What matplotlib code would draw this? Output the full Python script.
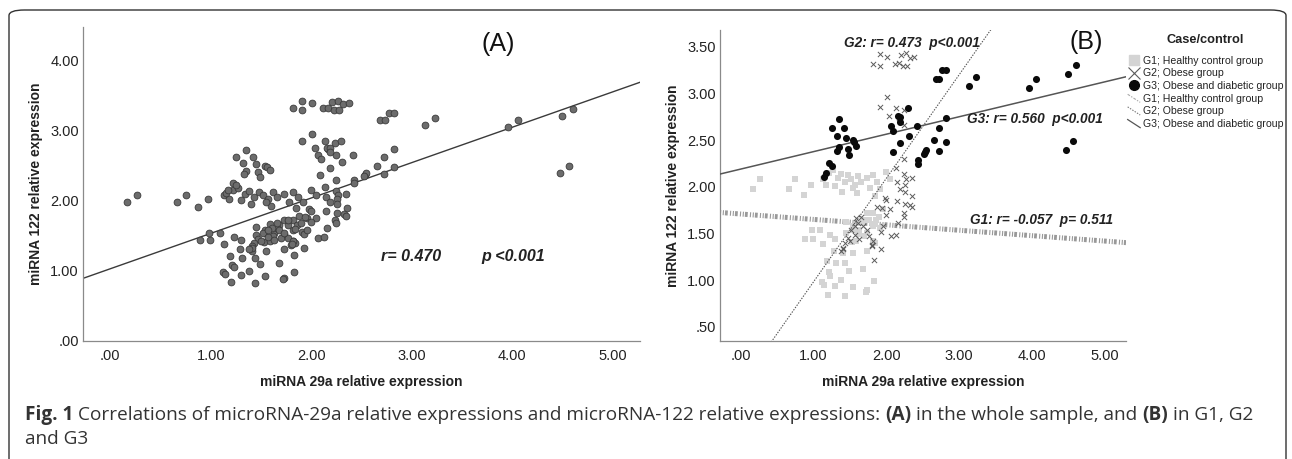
import matplotlib
matplotlib.use("Agg")
import matplotlib.pyplot as plt
import numpy as np
from matplotlib.lines import Line2D
from matplotlib.patches import FancyBboxPatch
from matplotlib.legend_handler import HandlerLine2D

plt.rcParams["font.family"] = ["Liberation Sans", "DejaVu Sans"]
plt.rcParams["lines.scale_dashes"] = False

# G1; healthy controls (light squares)
g1_x = [0.17, 0.27, 0.66, 0.75, 0.87, 0.97,
        1.22, 1.27, 1.34, 1.38, 1.43, 1.48, 1.52, 1.57, 1.62, 1.66, 1.73, 1.78,
        1.82, 1.87, 1.92, 2.00, 2.05, 1.40, 1.60, 1.85, 1.30, 1.55, 1.13, 1.18,
        0.89, 0.99, 0.98, 1.09, 1.13, 1.23, 1.29, 1.19, 1.31, 1.44, 1.55, 1.73,
        1.68, 1.49, 1.21, 1.23, 1.38, 1.12, 1.14, 1.30, 1.54, 1.73, 1.83, 1.20,
        1.44, 1.72, 1.30, 1.45, 1.54, 1.63, 1.73, 1.82, 1.82, 1.86, 1.73, 1.68,
        1.53, 1.82, 1.41, 1.84, 1.66, 1.77, 1.84, 1.91, 1.54, 1.70, 1.59, 1.96,
        1.77, 1.90, 1.62, 1.45]
g1_y = [1.98, 2.08, 1.98, 2.08, 1.91, 2.02,
        2.15, 2.18, 2.10, 2.14, 2.05, 2.13, 2.08, 2.02, 2.12, 2.05, 2.10, 1.99,
        2.13, 2.05, 1.98, 2.16, 2.08, 1.95, 1.93, 1.90, 2.01, 1.99, 2.08, 2.02,
        1.44, 1.44, 1.54, 1.54, 1.39, 1.49, 1.31, 1.21, 1.19, 1.19, 1.29, 1.31,
        1.12, 1.10, 1.09, 1.05, 1.00, 0.98, 0.95, 0.94, 0.93, 0.90, 0.99, 0.84,
        0.83, 0.88, 1.44, 1.51, 1.58, 1.54, 1.51, 1.58, 1.72, 1.65, 1.72, 1.65,
        1.41, 1.42, 1.29, 1.40, 1.61, 1.65, 1.60, 1.56, 1.54, 1.47, 1.42, 1.76,
        1.72, 1.68, 1.50, 1.62]

# G2; obese (crosses)
g2_x = [1.91, 2.01, 1.82, 1.91, 2.21, 2.27, 2.32, 2.38, 2.12, 2.17, 2.23, 2.28,
        2.01, 1.91, 2.14, 2.04, 2.24, 2.17, 2.25,
        2.25, 2.14, 2.25, 2.35, 2.27, 2.15, 2.26, 2.19, 2.26, 2.36, 2.15, 2.26,
        2.33, 2.35, 2.24, 2.25,
        1.98, 2.00, 1.88, 1.94, 2.05, 2.00, 1.66, 1.59, 1.61, 1.52, 1.57, 1.47,
        1.50, 1.43, 1.41, 1.63, 1.77, 1.80, 1.93, 1.82, 1.96, 2.07, 2.13, 2.16,
        1.68, 1.73, 1.57, 1.41, 1.81, 1.93, 1.83, 1.38]
g2_y = [3.42, 3.39, 3.32, 3.29, 3.41, 3.43, 3.38, 3.39, 3.32, 3.33, 3.29, 3.29,
        2.96, 2.86, 2.85, 2.76, 2.82, 2.74, 2.66,
        2.30, 2.20, 2.14, 2.10, 2.08, 2.05, 2.02, 1.98, 1.95, 1.90, 1.85, 1.82,
        1.81, 1.79, 1.72, 1.68,
        1.88, 1.86, 1.79, 1.77, 1.76, 1.70, 1.68, 1.67, 1.61, 1.54, 1.49, 1.45,
        1.42, 1.40, 1.35, 1.44, 1.47, 1.37, 1.52, 1.42, 1.58, 1.47, 1.48, 1.61,
        1.58, 1.54, 1.58, 1.33, 1.38, 1.33, 1.22, 1.31]

# G3; obese and diabetic (black dots)
g3_x = [1.15, 1.17, 1.22, 1.25, 1.25, 1.35, 1.32, 1.42, 1.35, 1.33, 1.45, 1.47,
        1.49, 1.54, 1.56, 1.59, 2.07, 2.10, 2.09, 2.16, 2.19, 2.19, 2.19, 2.30,
        2.31, 2.42, 2.43, 2.43, 2.53, 2.54, 2.52, 2.65, 2.68, 2.73, 2.77, 2.82,
        2.72, 2.72, 2.82, 2.82, 3.13, 3.23, 3.96, 4.06, 4.49, 4.60, 4.47, 4.56]
g3_y = [2.11, 2.15, 2.26, 2.22, 2.63, 2.73, 2.54, 2.63, 2.43, 2.38, 2.52, 2.41,
        2.34, 2.50, 2.48, 2.44, 2.65, 2.60, 2.37, 2.76, 2.75, 2.70, 2.47, 2.85,
        2.55, 2.65, 2.29, 2.25, 2.37, 2.40, 2.35, 2.50, 3.15, 3.15, 3.25, 3.25,
        2.63, 2.38, 2.74, 2.48, 3.08, 3.18, 3.06, 3.16, 3.21, 3.31, 2.39, 2.49]

# fit lines (intercept, slope)
fit_all = (1.03, 0.505)
fit_g1 = (1.71, -0.058)
fit_g2 = (-0.13, 1.11)
fit_g3 = (2.19, 0.187)

x_ticks = [0, 1, 2, 3, 4, 5]
x_labels = [".00", "1.00", "2.00", "3.00", "4.00", "5.00"]
ya_ticks = [0, 1, 2, 3, 4]
ya_labels = [".00", "1.00", "2.00", "3.00", "4.00"]
yb_ticks = [0.5, 1.0, 1.5, 2.0, 2.5, 3.0, 3.5]
yb_labels = [".50", "1.00", "1.50", "2.00", "2.50", "3.00", "3.50"]

group_names = ["G1; Healthy control group", "G2; Obese group",
               "G3; Obese and diabetic group"]

W, H = 1292, 459
INK = "#222222"


class HandlerSlant(HandlerLine2D):
    # SPSS draws the fit-line legend keys as short slanted strokes
    def create_artists(self, legend, orig_handle, xdescent, ydescent,
                       width, height, fontsize, trans):
        x0 = -xdescent + 0.05 * width
        x1 = -xdescent + width
        line = Line2D([x0, x1], [height * 1.0 - ydescent, -ydescent - 0.1 * height])
        self.update_prop(line, orig_handle, legend)
        line.set_transform(trans)
        return [line]


def style_axes(ax, yticks, ylabels):
    for s in ["top", "right"]:
        ax.spines[s].set_visible(False)
    for s in ["left", "bottom"]:
        ax.spines[s].set_color("#8a8a8a")
        ax.spines[s].set_linewidth(0.9)
    ax.set_xticks(x_ticks)
    ax.set_xticklabels(x_labels)
    ax.set_yticks(yticks)
    ax.set_yticklabels(ylabels)
    ax.tick_params(axis="x", length=0, pad=5.5, labelsize=10.5, colors=INK)
    ax.tick_params(axis="y", length=0, pad=3, labelsize=10.5, colors=INK)
    ax.set_xlabel("miRNA 29a relative expression", fontsize=10,
                  fontweight="bold", color=INK)
    ax.set_ylabel("miRNA 122 relative expression", fontsize=10,
                  fontweight="bold", color=INK)
    ax.xaxis.label.set_va("center")
    ax.yaxis.label.set_va("center")


def fit_line(ax, fit, **kw):
    xs = np.array(ax.get_xlim())
    ax.plot(xs, fit[0] + fit[1] * xs, **kw)


def note(ax, x, y, s, size):
    ax.text(x, y, s, transform=ax.transAxes, fontsize=size, fontweight="bold",
            fontstyle="italic", va="center", color=INK)


def caption_line(fig, pieces, x, y, size):
    r = fig.canvas.get_renderer()
    probe = fig.text(0, 0, "a a", fontsize=size, family="Open Sans")
    probe2 = fig.text(0, 0, "aa", fontsize=size, family="Open Sans")
    space = (probe.get_window_extent(r).width - probe2.get_window_extent(r).width)
    probe.remove()
    probe2.remove()
    for s, w in pieces:
        t = fig.text(x, y, s, fontsize=size, fontweight=w, family="Open Sans",
                     color="#333333", va="baseline", ha="left")
        x += (t.get_window_extent(r).width + space) / fig.bbox.width


fig = plt.figure(figsize=(W / 100, H / 100), dpi=100)
ax1 = fig.add_axes([83 / W, 1 - 341 / H, (640 - 83) / W, (341 - 27) / H])
ax2 = fig.add_axes([720 / W, 1 - 341 / H, (1126 - 720) / W, (341 - 30) / H])

# panel A: whole sample
all_x = g1_x + g2_x + g3_x
all_y = g1_y + g2_y + g3_y
ax1.set_xlim(-0.27, 5.27)
ax1.set_ylim(0, 4.48)
ax1.scatter(all_x, all_y, s=24, facecolor="#6c6c6c", edgecolor="#3a3a3a",
            linewidth=0.6, zorder=3)
fit_line(ax1, fit_all, color="#3a3a3a", lw=1.0, zorder=2)
style_axes(ax1, ya_ticks, ya_labels)
ax1.xaxis.set_label_coords(0.5, (341 - 382) / 314)
ax1.yaxis.set_label_coords((36 - 83) / 557, 0.5)
ax1.text(0.745, 0.945, "(A)", transform=ax1.transAxes, fontsize=18,
         ha="center", va="center", color="#111111")
note(ax1, 0.535, 0.27, "r= 0.470", 11.5)
note(ax1, 0.715, 0.27, "p <0.001", 11.5)

# panel B: by group
ax2.set_xlim(-0.28, 5.29)
ax2.set_ylim(0.35, 3.68)
ax2.scatter(g1_x, g1_y, s=20, marker="s", color="#d4d4d4", linewidth=0, zorder=2)
ax2.scatter(g2_x, g2_y, s=14, marker="x", color="#5a5a5a", linewidth=0.7, zorder=3)
ax2.scatter(g3_x, g3_y, s=26, marker="o", color="#0a0a0a", linewidth=0, zorder=4)
fit_line(ax2, fit_g1, color="#999999", lw=3.6,
         dashes=(0.8, 1.2, 0.8, 0.8, 2.0, 1.6), zorder=1)
fit_line(ax2, fit_g2, color="#555555", lw=0.8, dashes=(1.0, 1.0), zorder=3)
fit_line(ax2, fit_g3, color="#555555", lw=1.1, zorder=3)
style_axes(ax2, yb_ticks, yb_labels)
ax2.xaxis.set_label_coords(0.5, (341 - 382) / 311)
ax2.yaxis.set_label_coords((673 - 720) / 406, 0.5)
ax2.text(0.902, 0.962, "(B)", transform=ax2.transAxes, fontsize=18,
         ha="center", va="center", color="#111111")
note(ax2, 0.306, 0.958, "G2: r= 0.473  p<0.001", 9.8)
note(ax2, 0.608, 0.714, "G3: r= 0.560  p<0.001", 9.8)
note(ax2, 0.615, 0.389, "G1: r= -0.057  p= 0.511", 9.8)

handles = [
    Line2D([], [], ls="none", marker="s", ms=6.5, color="#d4d4d4"),
    Line2D([], [], ls="none", marker="x", ms=8, mew=0.8, color="#5a5a5a"),
    Line2D([], [], ls="none", marker="o", ms=7, color="#0a0a0a"),
    Line2D([], [], color="#aaaaaa", lw=0.8, dashes=(2, 1, 1, 1)),
    Line2D([], [], color="#777777", lw=0.8, dashes=(1, 1)),
    Line2D([], [], color="#555555", lw=0.9),
]
slant = HandlerSlant()
leg = ax2.legend(handles, group_names + group_names, loc="upper left",
                 bbox_to_anchor=(1127 / W, 1 - 34 / H),
                 bbox_transform=fig.transFigure, frameon=False,
                 title="Case/control", fontsize=7.6, handlelength=1.25,
                 handletextpad=0.3, labelspacing=0.25, borderpad=0,
                 borderaxespad=0, alignment="center",
                 title_fontproperties={"weight": "bold", "size": 9.2},
                 handler_map={handles[3]: slant, handles[4]: slant,
                              handles[5]: slant})
for t in leg.get_texts():
    t.set_color(INK)
leg.get_title().set_color(INK)
leg._legend_box.sep = 7

# rounded frame and caption
fig.patches.append(FancyBboxPatch((9 / W, -20 / H), (1286 - 9) / W, (449 + 20) / H,
                                  boxstyle="round,pad=0,rounding_size=0.012",
                                  transform=fig.transFigure, fill=False,
                                  edgecolor="#333333", linewidth=1.0))
caption_line(fig, [("Fig. 1", "bold"),
                   ("Correlations of microRNA-29a relative expressions and "
                    "microRNA-122 relative expressions:", "normal"),
                   ("(A)", "bold"), ("in the whole sample, and", "normal"),
                   ("(B)", "bold"), ("in G1, G2", "normal")],
             25 / W, 1 - 420 / H, 13.7)
caption_line(fig, [("and G3", "normal")], 25 / W, 1 - 444 / H, 13.7)

fig.savefig("out.png", dpi=100)
